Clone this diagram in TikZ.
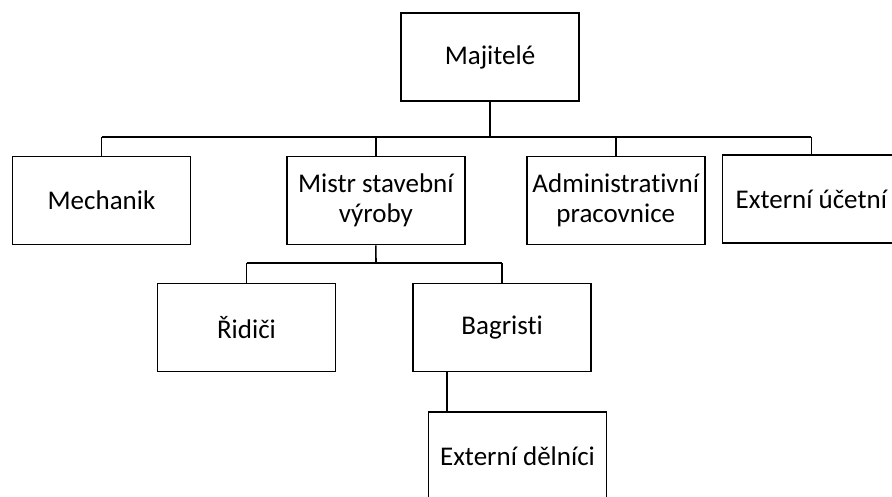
\documentclass[tikz,border=0pt]{standalone}
\usepackage{fontspec}
\setmainfont{Carlito}[Ligatures=NoCommon]
\usetikzlibrary{calc}

\begin{document}
\begin{tikzpicture}[x=1pt, y=-1pt,
  box/.style={draw, line width=1.6pt, minimum width=178pt, minimum height=88pt,
    inner sep=2pt, align=center, font=\fontsize{27}{29.5}\selectfont},
  link/.style={line width=1.6pt}]
  \useasboundingbox (0,0) rectangle (892,496);
  % top level
  \node[box] (maj) at (490,57) {Majitelé};
  % second level
  \node[box] (mech)  at (101.5,200.5) {Mechanik};
  \node[box] (mistr) at (375.8,200.5) {Mistr stavební\\výroby};
  \node[box] (admin) at (615.8,200.5) {Administrativní\\pracovnice};
  \node[box] (ext)   at (811.3,199)   {Externí účetní};
  % third level
  \node[box] (rid) at (246.5,327.3) {Řidiči};
  \node[box] (bag) at (502.2,327.3) {Bagristi};
  % fourth level, cut by the lower edge
  \node[box] (dek) at (517.5,456) {Externí dělníci};
  % bus lines
  \coordinate (bus1) at (490,137);
  \coordinate (bus2) at (376,263);
  \draw[link] (maj.south) -- (bus1);
  \draw[link] (bus1 -| mech.north) -- (bus1 -| ext.north);
  \foreach \n in {mech,mistr,admin,ext} \draw[link] (bus1 -| \n.north) -- (\n.north);
  \draw[link] (mistr.south) -- (bus2);
  \draw[link] (bus2 -| rid.north) -- (bus2 -| bag.north);
  \foreach \n in {rid,bag} \draw[link] (bus2 -| \n.north) -- (\n.north);
  % drop from Bagristi
  \coordinate (drop) at ([xshift=19pt]dek.north west);
  \draw[link] (drop) -- (drop |- bag.south);
\end{tikzpicture}
\end{document}
